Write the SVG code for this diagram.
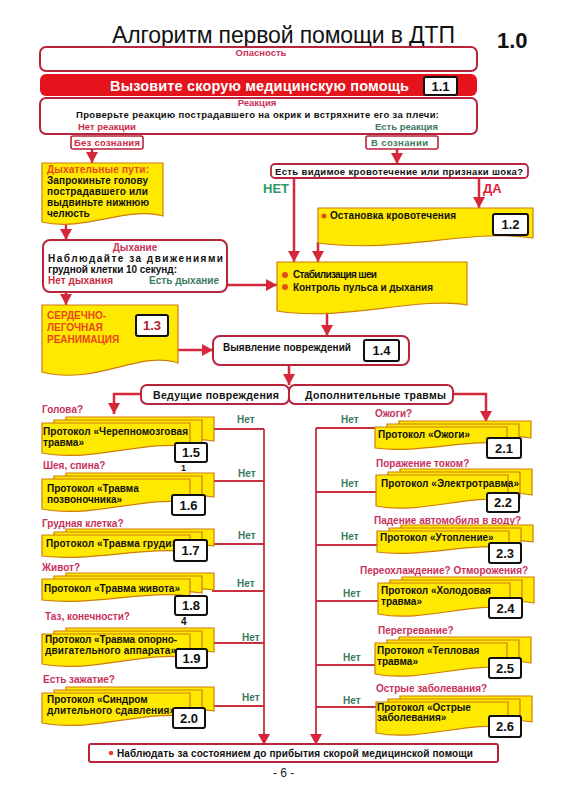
<svg xmlns="http://www.w3.org/2000/svg" xmlns:xlink="http://www.w3.org/1999/xlink" width="566" height="800" viewBox="0 0 566 800">
<style>
text{font-family:"Liberation Sans",Arial,sans-serif;font-weight:bold;font-size:10px;fill:#111}
.pink{fill:#c8325a}
.grn{fill:#3b7a5c}
.redt{fill:#cc2a44}
.org{fill:#e8461c}
.box{fill:#fff;stroke:#b8243c;stroke-width:2}
.yel{fill:#ffe900;stroke:#cf7d0a;stroke-width:1.2}
.num{fill:#fff;stroke:#111;stroke-width:2}
.nt{font-size:13px;text-anchor:middle}
.arr{fill:none;stroke:#d6283a;stroke-width:2.5}
.ln{fill:none;stroke:#c8303f;stroke-width:1.8}
.dot{fill:#e0501a}
</style>
<defs>
<marker id="ah" markerUnits="userSpaceOnUse" markerWidth="12" markerHeight="12" refX="11" refY="6" orient="auto">
<path d="M0,0 L11,6 L0,12 Z" fill="#d6283a"/>
</marker>
<path id="pL32" class="yel" d="M0,0 H148 V24 C105,16 50,40 0,30 Z"/>
<path id="pL22" class="yel" d="M0,0 H148 V17 C105,11 50,27 0,21 Z"/>
<path id="pR22" class="yel" d="M0,0 H132 V17 C95,11 45,27 0,21 Z"/>
<path id="pR32" class="yel" d="M0,0 H132 V26 C95,18 45,40 0,31 Z"/>
<g id="sL32"><use href="#pL32" x="24" y="-6"/><use href="#pL32" x="12" y="-3"/><use href="#pL32"/></g>
<g id="sL22"><use href="#pL22" x="24" y="-6"/><use href="#pL22" x="12" y="-3"/><use href="#pL22"/></g>
<g id="sR22"><use href="#pR22" x="24" y="-6"/><use href="#pR22" x="12" y="-3"/><use href="#pR22"/></g>
<g id="sR32"><use href="#pR32" x="24" y="-6"/><use href="#pR32" x="12" y="-3"/><use href="#pR32"/></g>
</defs>

<rect width="566" height="800" fill="#fff"/>

<g id="title">
<text x="112" y="43" style="font-weight:normal;font-size:23px" textLength="343">Алгоритм первой помощи в ДТП</text>
<text x="497" y="48" style="font-size:22px">1.0</text>
</g>

<g id="connectors">
<path class="arr" d="M92,149 V163" marker-end="url(#ah)"/>
<path class="arr" d="M397,149 V164" marker-end="url(#ah)"/>
<path class="arr" d="M66,222 V240" marker-end="url(#ah)"/>
<path class="arr" d="M66,292 V305" marker-end="url(#ah)"/>
<path class="arr" d="M226,285 H277" marker-end="url(#ah)"/>
<path class="arr" d="M294,178 V262" marker-end="url(#ah)"/>
<path class="arr" d="M479,178 V208" marker-end="url(#ah)"/>
<path class="arr" d="M318,242 V262" marker-end="url(#ah)"/>
<path class="arr" d="M327,310 V336" marker-end="url(#ah)"/>
<path class="arr" d="M178,350 H213" marker-end="url(#ah)"/>
<path class="arr" d="M289,365 V385" marker-end="url(#ah)"/>
<path class="arr" d="M141,394 H114 V414" marker-end="url(#ah)"/>
<path class="arr" d="M453,394 H486 V422" marker-end="url(#ah)"/>
<path class="ln" d="M214,429 H264 M210,481 H264 M212,544 H264 M212,591 H264 M212,643 H264 M208,706 H264"/>
<path class="ln" d="M264,429 V745" marker-end="url(#ah)"/>
<path class="ln" d="M375,428 H316 M376,492 H316 M377,545 H316 M378,601 H316 M375,665 H316 M376,707 H316"/>
<path class="ln" d="M316,428 V745" marker-end="url(#ah)"/>
</g>

<g id="danger">
<rect class="box" x="40" y="47" width="437" height="24" rx="6"/>
<text class="pink" x="261" y="56" text-anchor="middle" style="font-size:9.5px">Опасность</text>
</g>

<g id="call">
<rect x="40" y="74" width="437" height="22" rx="6" fill="#e4131c"/>
<text x="110" y="91" style="font-size:14.5px;fill:#fff" textLength="299">Вызовите скорую медицинскую помощь</text>
<rect class="num" x="424" y="77" width="33" height="18" rx="2"/>
<text class="nt" x="440.5" y="91">1.1</text>
</g>

<g id="reaction">
<rect class="box" x="40" y="98" width="437" height="36" rx="6"/>
<text class="pink" x="257" y="106" text-anchor="middle" style="font-size:9.5px">Реакция</text>
<text x="76" y="118" style="font-size:9.5px" textLength="363">Проверьте реакцию пострадавшего на окрик и встряхните его за плечи:</text>
<text class="redt" x="78" y="130" style="font-size:9.5px">Нет реакции</text>
<text class="grn" x="438" y="130" text-anchor="end" style="font-size:9.5px">Есть реакция</text>
</g>

<g id="unconscious">
<rect class="box" x="71" y="136" width="72" height="13" rx="2" style="stroke-width:1.6"/>
<text class="redt" x="74" y="146" style="font-size:9.5px" textLength="66">Без сознания</text>
</g>

<g id="conscious">
<rect class="box" x="366" y="136" width="72" height="13" rx="2" style="stroke-width:1.6"/>
<text class="grn" x="371" y="146" style="font-size:9.5px" textLength="57">В сознании</text>
</g>

<g id="airway">
<path class="yel" d="M42,163 H163 V216 C125,206 85,232 42,222 Z"/>
<text class="org" x="47" y="173" textLength="102">Дыхательные пути:</text>
<text x="47" y="184" textLength="101">Запрокиньте голову</text>
<text x="47" y="195" textLength="101">пострадавшего  или</text>
<text x="47" y="206" textLength="102">выдвиньте нижнюю</text>
<text x="47" y="217">челюсть</text>
</g>

<g id="breathing">
<rect class="box" x="43" y="240" width="184" height="52" rx="7"/>
<text class="pink" x="135" y="251" text-anchor="middle">Дыхание</text>
<text x="48" y="262" textLength="175">Наблюдайте за движениями</text>
<text x="48" y="273" textLength="129">грудной клетки 10 секунд:</text>
<text class="redt" x="48" y="284" textLength="65">Нет дыхания</text>
<text class="grn" x="149" y="284" textLength="70">Есть дыхание</text>
</g>

<g id="cpr">
<path class="yel" d="M42,305 H178 V363 C140,350 95,386 42,372 Z"/>
<text class="org" x="47" y="319">СЕРДЕЧНО-</text>
<text class="org" x="47" y="331">ЛЕГОЧНАЯ</text>
<text class="org" x="47" y="343">РЕАНИМАЦИЯ</text>
<rect class="num" x="136" y="315" width="32" height="21" rx="2"/>
<text class="nt" x="152" y="330" style="fill:#b02030">1.3</text>
</g>

<g id="bleeding-q">
<rect class="box" x="271" y="164" width="257" height="14" rx="4" style="stroke-width:1.8"/>
<text x="275" y="175" style="font-size:9.5px" textLength="248">Есть видимое кровотечение или признаки шока?</text>
<text x="263" y="193" style="font-size:13px;fill:#2e9966">НЕТ</text>
<text x="483" y="193" style="font-size:13px;fill:#e0203a">ДА</text>
</g>

<g id="stop-bleeding">
<path class="yel" d="M318,208 H533 V238 C470,228 400,254 318,243 Z"/>
<circle class="dot" cx="324" cy="216" r="2.5"/>
<text x="330" y="219" textLength="126">Остановка кровотечения</text>
<rect class="num" x="493" y="214" width="35" height="21" rx="2"/>
<text class="nt" x="510.5" y="229">1.2</text>
</g>

<g id="stabilize">
<path class="yel" d="M277,262 H467 V305 C420,296 340,322 277,311 Z"/>
<circle class="dot" cx="285" cy="275" r="3"/>
<text x="293" y="278" textLength="84">Стабилизация шеи</text>
<circle class="dot" cx="285" cy="287" r="3"/>
<text x="293" y="291" textLength="140">Контроль пульса и дыхания</text>
</g>

<g id="injuries">
<rect class="box" x="213" y="336" width="196" height="29" rx="7"/>
<text x="223" y="351" textLength="128">Выявление повреждений</text>
<rect class="num" x="364" y="340" width="35" height="21" rx="2"/>
<text class="nt" x="381.5" y="355">1.4</text>
</g>

<g id="leading">
<rect class="box" x="141" y="385" width="148" height="19" rx="6"/>
<text x="153" y="399" style="font-size:10.5px" textLength="126">Ведущие повреждения</text>
</g>

<g id="additional">
<rect class="box" x="289" y="385" width="164" height="19" rx="6"/>
<text x="305" y="399" style="font-size:10.5px" textLength="141">Дополнительные травмы</text>
</g>

<g id="p15">
<text class="pink" x="42" y="413">Голова?</text>
<use href="#sL32" x="42" y="423"/>
<text x="43" y="435" textLength="145">Протокол «Черепномозговая</text>
<text x="43" y="446">травма»</text>
<text x="181" y="471" style="font-size:9px">1</text>
<rect class="num" x="175" y="443" width="32" height="19" rx="2"/>
<text class="nt" x="191" y="457">1.5</text>
<text class="grn" x="237" y="423">Нет</text>
</g>

<g id="p16">
<text class="pink" x="43" y="469">Шея, спина?</text>
<use href="#sL32" x="42" y="479"/>
<text x="47" y="492">Протокол «Травма</text>
<text x="47" y="503">позвоночника»</text>
<rect class="num" x="172" y="495" width="33" height="20" rx="2"/>
<text class="nt" x="188.5" y="510">1.6</text>
<text class="grn" x="238" y="477">Нет</text>
</g>

<g id="p17">
<text class="pink" x="42" y="527">Грудная клетка?</text>
<use href="#sL22" x="42" y="535"/>
<text x="46" y="547" textLength="131">Протокол «Травма груди»</text>
<rect class="num" x="174" y="540" width="33" height="21" rx="2"/>
<text class="nt" x="190.5" y="555">1.7</text>
<text class="grn" x="238" y="539">Нет</text>
</g>

<g id="p18">
<text class="pink" x="42" y="571">Живот?</text>
<use href="#sL22" x="42" y="579"/>
<text x="44" y="592" textLength="136">Протокол «Травма живота»</text>
<text x="181" y="625" style="font-size:10px">4</text>
<rect class="num" x="175" y="596" width="32" height="19" rx="2"/>
<text class="nt" x="191" y="610">1.8</text>
<text class="grn" x="237" y="587">Нет</text>
</g>

<g id="p19">
<text class="pink" x="45" y="620">Таз,  конечности?</text>
<use href="#sL32" x="42" y="634"/>
<text x="45" y="643" textLength="132">Протокол «Травма опорно-</text>
<text x="45" y="654" textLength="131">двигательного аппарата»</text>
<rect class="num" x="176" y="649" width="31" height="19" rx="2"/>
<text class="nt" x="191.5" y="663">1.9</text>
<text class="grn" x="242" y="641">Нет</text>
</g>

<g id="p20">
<text class="pink" x="43" y="683">Есть зажатие?</text>
<use href="#sL32" x="42" y="693"/>
<text x="47" y="703">Протокол «Синдром</text>
<text x="47" y="714" textLength="128">длительного сдавления»</text>
<rect class="num" x="173" y="708" width="32" height="20" rx="2"/>
<text class="nt" x="189" y="723">2.0</text>
<text class="grn" x="242" y="701">Нет</text>
</g>

<g id="p21">
<text class="pink" x="375" y="417">Ожоги?</text>
<use href="#sR22" x="375" y="427"/>
<text x="378" y="438">Протокол «Ожоги»</text>
<rect class="num" x="487" y="438" width="34" height="20" rx="2"/>
<text class="nt" x="504" y="453">2.1</text>
<text class="grn" x="341" y="423">Нет</text>
</g>

<g id="p22">
<text class="pink" x="376" y="467">Поражение током?</text>
<use href="#sR32" x="376" y="475"/>
<text x="381" y="487" textLength="138">Протокол «Электротравма»</text>
<rect class="num" x="487" y="493" width="32" height="19" rx="2"/>
<text class="nt" x="503" y="507">2.2</text>
<text class="grn" x="341" y="487">Нет</text>
</g>

<g id="p23">
<text class="pink" x="374" y="524">Падение автомобиля в воду?</text>
<use href="#sR22" x="377" y="531"/>
<text x="380" y="541">Протокол «Утопление»</text>
<rect class="num" x="489" y="543" width="32" height="20" rx="2"/>
<text class="nt" x="505" y="558">2.3</text>
<text class="grn" x="341" y="540">Нет</text>
</g>

<g id="p24">
<text class="pink" x="360" y="574">Переохлаждение? Отморожения?</text>
<use href="#sR32" x="378" y="583"/>
<text x="381" y="594">Протокол «Холодовая</text>
<text x="381" y="605">травма»</text>
<rect class="num" x="489" y="598" width="33" height="20" rx="2"/>
<text class="nt" x="505.5" y="613">2.4</text>
<text class="grn" x="343" y="597">Нет</text>
</g>

<g id="p25">
<text class="pink" x="378" y="634">Перегревание?</text>
<use href="#sR32" x="375" y="643"/>
<text x="377" y="654">Протокол «Тепловая</text>
<text x="377" y="665">травма»</text>
<rect class="num" x="489" y="658" width="32" height="20" rx="2"/>
<text class="nt" x="505" y="673">2.5</text>
<text class="grn" x="343" y="661">Нет</text>
</g>

<g id="p26">
<text class="pink" x="376" y="692">Острые заболевания?</text>
<use href="#sR32" x="376" y="702"/>
<text x="377" y="711">Протокол «Острые</text>
<text x="377" y="721">заболевания»</text>
<rect class="num" x="489" y="716" width="32" height="21" rx="2"/>
<text class="nt" x="505" y="731">2.6</text>
<text class="grn" x="343" y="704">Нет</text>
</g>

<g id="observe">
<rect class="box" x="89" y="744" width="409" height="18" rx="2"/>
<circle cx="111" cy="753" r="2.3" fill="#e0402a"/>
<text x="117" y="757" textLength="356">Наблюдать за состоянием  до прибытия скорой медицинской помощи</text>
</g>

<g id="page">
<text x="273" y="777" style="font-weight:normal;font-size:12px;fill:#222">- 6 -</text>
</g>
</svg>
